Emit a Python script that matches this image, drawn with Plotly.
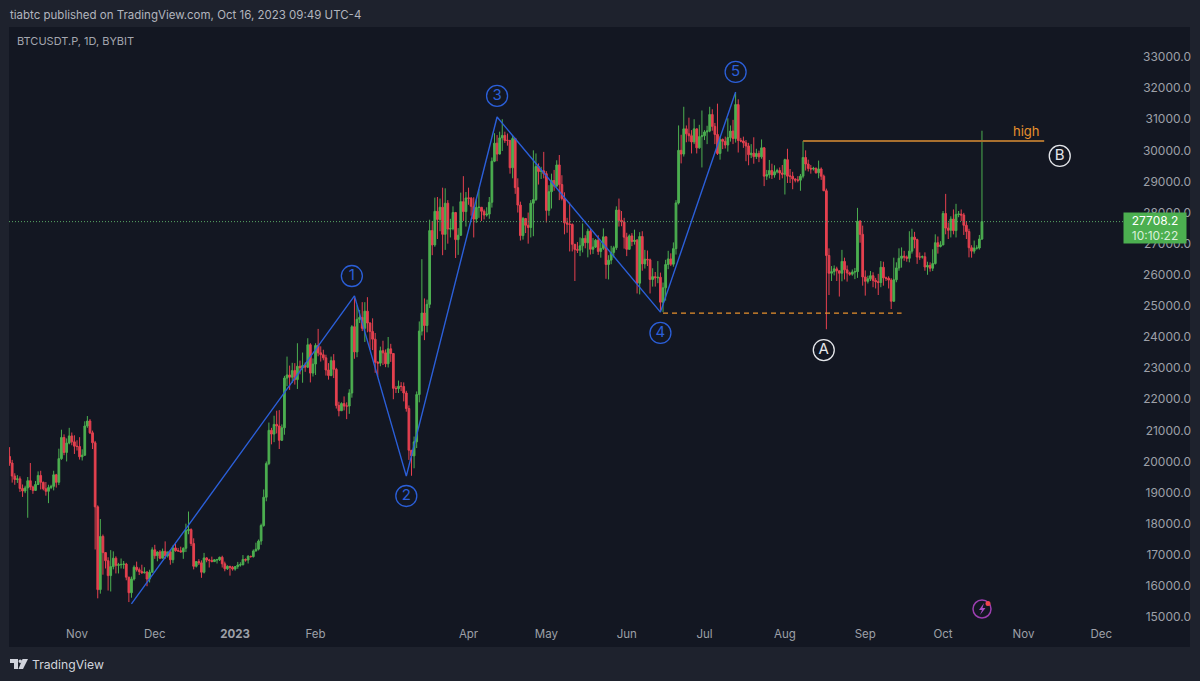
import pandas as pd
import plotly.graph_objects as go

W, H = 1200, 681
L, R, T, B = 9, 1190, 27, 647

first_date = "2022-10-06"
first_open = 20160

closes = [
 19950,19530,19420,19440,19130,19050,19150,19380,19180,19070,19260,19550,19330,19120,19040,19160,19200,19570,19330,20090,20770,20290,20590,20820,20630,20490,
 20480,20150,20200,21140,21300,20920,20600,18540,15880,17590,17070,16810,16330,16620,16890,16660,16680,16690,16700,16280,15780,16220,16600,16520,16460,16420,16440,16220,16440,17160,
 16970,17090,16890,17110,16970,17090,16840,17220,17130,17130,17090,17210,17780,17810,17360,16630,16780,16740,16440,16900,16830,16820,16780,16840,16840,16920,16710,16550,16630,16600,16540,
 16620,16670,16680,16850,16830,16950,16940,17120,17180,17440,17940,18850,19930,21000,20880,21190,21140,20680,21080,22680,22780,22710,22920,22630,23060,23010,23080,23030,23750,22840,23130,
 23730,23490,23430,23330,22940,22760,23240,22960,21800,21630,21860,21780,21780,22200,24330,23520,24570,24630,24280,24830,24450,24180,23930,23190,23160,23560,23490,23140,
 23620,23470,22350,22340,22420,22410,22200,21700,20360,20180,20630,22150,24190,24770,24370,25050,27420,26960,28040,27780,28170,27300,28300,27470,27480,28000,27130,27270,28350,28030,28470,
 28460,28200,27790,28170,28170,28040,27920,27950,28330,29650,30230,29880,30400,30480,30320,30320,29440,30380,28800,28240,27260,27810,27590,27520,28300,28420,29480,29320,29340,29250,
 28070,28670,29030,28850,29530,28900,28450,27670,27630,27620,26980,26810,26790,26930,27170,27030,27400,26820,26890,27110,26750,26850,27220,26330,26470,26720,26870,28080,27750,27700,27210,
 26820,27250,27070,27110,25730,27230,26350,26500,26480,25850,25940,25900,25920,25120,25580,26330,26510,26340,26840,28310,30000,29880,30690,30530,30470,30270,30690,30080,30440,30470,
 30590,30620,31150,30770,30510,29900,30350,30290,30170,30410,30620,30380,31470,30320,30300,30240,30140,29860,29910,29800,29900,29790,30080,29170,29220,29350,29210,29310,29350,29270,29230,
 29700,29170,29170,29080,29040,29040,29170,29770,29560,29420,29400,29420,29280,29400,29170,28700,26620,26050,26100,26190,26130,26050,26430,26160,26060,26020,26090,26100,27720,27300,25930,
 25790,25870,25970,25820,25780,25750,26240,25900,25890,25830,25150,25840,26220,26530,26600,26570,26530,26760,27210,27130,26570,26570,26580,26250,26300,26210,26360,27030,26910,26960,
 27970,27500,27430,27790,27420,27940,27950,27920,27590,27390,26870,26760,26860,26860,27150,27708.2,
]
highs = [
 20460,20050,19620,19560,19520,19260,19220,19500,19950,19220,19370,19680,19700,19350,19340,19250,19250,19700,19600,20410,21020,20870,20740,21080,20930,20840,
 20680,20780,20390,21290,21460,21360,20990,20660,18590,18150,17650,17070,16920,17150,17110,16950,16740,16880,16800,16740,16290,16300,16660,16780,16590,16680,16600,16480,16520,17240,
 17320,17110,17150,17200,17430,17100,17140,17300,17350,17220,17260,17240,18000,18390,17850,17530,16800,16860,16820,17060,16920,16870,16940,16860,16870,16940,16970,16780,16660,16640,16640,
 16630,16770,16760,16990,16880,16990,16970,17170,17390,17490,18000,19100,20000,21250,21080,21470,21630,21650,21190,22750,23370,23080,23170,23160,23800,23240,23500,23180,23960,23800,23310,
 23800,24260,23700,23590,23430,23160,23370,23450,23010,21920,21900,22090,21900,22320,24380,25250,25020,24870,25120,25120,25280,24470,24600,24130,23220,23690,23880,23600,
 24000,23780,23480,22420,22600,22550,22540,22270,21800,20300,20800,22250,24500,26500,25240,25200,27770,27730,28480,28500,28450,28800,28780,28400,27800,28200,28020,27500,28640,29170,28660,
 28800,28500,28490,28430,28750,28170,28100,28170,28500,29770,30550,30490,30600,31000,30600,30540,30320,30480,30400,29100,28350,27860,27820,28000,28400,30000,29900,29580,29470,29950,
 29330,28880,29250,29370,29680,29850,29200,28650,27830,28320,27650,26880,27050,27200,27650,27270,27480,27480,27180,27150,27270,27050,27490,27200,26630,26930,26930,28200,28450,28050,27830,
 27350,27300,27340,27450,27150,27370,27400,26800,26780,26520,26210,26090,26440,26070,25750,26480,26770,26690,27040,28400,30800,30500,31400,30800,31050,30650,31000,30700,30820,31280,
 30650,30790,31400,31320,30880,31500,30450,30380,30440,31030,30800,30980,31850,31640,30400,30440,30330,30240,30200,30420,30050,29990,30350,30100,29370,29690,29570,29520,29410,29450,29530,
 29730,30050,29400,29310,29100,29170,29240,30300,30000,29700,29530,29470,29450,29670,29450,29220,28770,26850,26280,26300,26260,26130,26800,26550,26300,26100,26170,26220,28150,27760,27580,
 26140,25970,26120,26080,25900,26030,26440,26420,25940,25950,25890,26550,26400,26850,26880,26770,26620,27400,27480,27380,27160,26720,26620,26720,26420,26400,26820,27300,27230,27080,
 28050,28600,27680,27880,28100,28280,28050,28100,27990,27720,27480,26950,27100,26950,27280,30630,
]
lows = [
 19860,19320,19250,19310,19020,18860,18980,18190,19080,18960,19060,19240,19100,19070,18900,18660,19110,19070,19160,19240,20050,20200,20000,20550,20520,20240,
 20350,20060,20030,20180,21080,20880,20400,17170,15600,15750,16360,16560,15850,15820,16530,16400,16400,16560,16550,16180,15480,15620,16170,16460,16350,16390,16400,15990,16110,16430,
 16870,16790,16860,16880,16870,16910,16680,16730,17100,17090,17070,16870,17090,17660,17280,16530,16590,16670,16260,16400,16760,16590,16760,16790,16720,16800,16590,16470,16510,16330,16490,
 16490,16550,16620,16660,16780,16720,16910,16910,17110,17140,17320,17900,18720,19880,20550,20620,20900,20400,20660,20860,22420,22300,22520,22470,22330,22800,22530,22880,23000,22540,22730,
 22780,23380,23210,23250,22760,22630,22740,22680,21700,21450,21620,21640,21360,21530,22050,23300,23350,24450,24190,23840,24150,23600,23580,22850,22720,23060,23100,23030,
 23020,23200,22000,22200,22200,22260,21930,21600,20050,19540,19780,20430,21900,24050,23900,24150,24930,26630,26900,27150,27400,26630,26800,27000,27200,27430,26540,26640,27250,27730,27550,
 28250,27900,27200,27670,27830,27730,27780,27870,27800,28160,29620,29650,29870,29980,30240,30150,29250,29100,28600,28000,27100,27130,27340,27000,27200,27240,28370,28900,29080,29100,
 27680,27900,28130,28700,28800,28400,28390,27300,27350,26750,26750,25800,26700,26600,26720,26850,26560,26650,26670,26860,26640,26550,26800,25870,25850,26340,26560,26800,27550,27560,26840,
 26600,26800,26920,26970,25400,25370,26130,26200,26280,25400,25620,25620,25730,24830,24800,25170,26180,26280,26260,26650,28260,29580,29800,30260,30280,29900,30200,29900,30050,29450,
 30330,30200,30580,30630,30200,29850,29700,30040,30060,29960,30280,30200,30250,29930,30260,30080,29650,29520,29750,29570,29720,29620,29730,28850,29050,29100,29080,29120,29260,29050,29100,
 28580,28950,28950,28750,28970,28970,28700,29100,29350,29320,29250,29350,29250,29100,29050,28690,24250,25350,25800,25980,25800,25300,25790,25850,25780,25970,25970,25860,25900,27030,25650,
 25330,25720,25800,25600,25560,25350,25600,25650,25800,25560,24900,25130,25760,26130,26230,26450,26420,26400,26680,26850,26350,26480,26520,26130,26000,26100,26120,26330,26680,26880,
 26950,27300,27150,27200,27300,27200,27850,27730,27280,27150,26560,26550,26680,26810,26810,27120,
]

price_ticks = [15000 + 1000 * i for i in range(19)]
month_ticks = ["2022-11-01","2022-12-01","2023-01-01","2023-02-01","2023-04-01","2023-05-01","2023-06-01",
               "2023-07-01","2023-08-01","2023-09-01","2023-10-01","2023-11-01","2023-12-01"]
month_labels = ["Nov","Dec","<b>2023</b>","Feb","Apr","May","Jun","Jul","Aug","Sep","Oct","Nov","Dec"]

wave_dates = ["2022-11-22","2023-02-16","2023-03-08","2023-04-12","2023-06-14","2023-07-13"]
wave_prices = [15420, 25320, 19530, 31070, 24800, 31875]
blue_dates = ["2023-02-15","2023-03-08","2023-04-12","2023-06-14","2023-07-13"]
blue_prices = [25960, 18890, 31750, 24130, 32520]
blue_labels = ["1","2","3","4","5"]
white_dates = ["2023-08-16","2023-11-15"]
white_prices = [23580, 29820]
white_labels = ["A","B"]
low_dates = ["2023-06-15","2023-09-15"]
low_prices = [24770, 24770]
high_dates = ["2023-08-08","2023-11-09"]
high_prices = [30300, 30300]
last_price = 27708.2

BG = "#131722"
FRAME = "#1e222d"
GREEN = "#4caf50"
RED = "#e5404f"
BLUE = "#2b5fd9"
ORANGE = "#e8912d"
FONT = "Inter"

dates = pd.date_range(first_date, periods=len(closes), freq="D")
opens = [first_open] + closes[:-1]

def price_at(y):
    return 15000 + (617 - y) * 18000 / 560
def date_at(x):
    return pd.Timestamp("2022-11-01") + pd.Timedelta(days=(x - 77) / 2.593)
def px(x):
    return (x - L) / (R - L)
def py(y):
    return 1 - (y - T) / (B - T)

fig = go.Figure()
fig.add_trace(go.Scatter(x=[date_at(L), dates[-1], date_at(1124)], y=[last_price]*3, mode="lines",
                         line=dict(color="#5aa865", width=1, dash="1px 2px"), hoverinfo="skip"))
fig.add_trace(go.Candlestick(x=dates, open=opens, high=highs, low=lows, close=closes,
    increasing=dict(line=dict(color=GREEN, width=1), fillcolor=GREEN),
    decreasing=dict(line=dict(color=RED, width=1), fillcolor=RED),
    whiskerwidth=0))
fig.add_trace(go.Scatter(x=wave_dates, y=wave_prices, mode="lines", line=dict(color=BLUE, width=1.4), hoverinfo="skip"))
fig.add_trace(go.Scatter(x=low_dates, y=low_prices, mode="lines", line=dict(color=ORANGE, width=1.2, dash="5px 4px"), hoverinfo="skip"))
fig.add_trace(go.Scatter(x=high_dates, y=high_prices, mode="lines", line=dict(color="#a9702f", width=2), hoverinfo="skip"))
fig.add_trace(go.Scatter(x=blue_dates, y=blue_prices, mode="markers+text", text=blue_labels, textposition="middle center",
    marker=dict(size=21, color="rgba(0,0,0,0)", line=dict(color=BLUE, width=1.3)),
    textfont=dict(family=FONT, size=15, color=BLUE), hoverinfo="skip"))
fig.add_trace(go.Scatter(x=white_dates, y=white_prices, mode="markers+text", text=white_labels, textposition="middle center",
    marker=dict(size=21, color="rgba(0,0,0,0)", line=dict(color="#e4e6ea", width=1.3)),
    textfont=dict(family=FONT, size=15, color="#e4e6ea"), hoverinfo="skip"))

anns = [
    dict(xref="paper", yref="paper", x=px(8), y=py(15), text="tiabtc published on TradingView.com, Oct 16, 2023 09:49 UTC-4",
         font=dict(family=FONT, size=11.5, color="#b2b5be"), xanchor="left", yanchor="middle", showarrow=False),
    dict(xref="paper", yref="paper", x=px(15), y=py(41), text="BTCUSDT.P, 1D, BYBIT",
         font=dict(family=FONT, size=11, color="#a3a6af"), xanchor="left", yanchor="middle", showarrow=False),
    dict(xref="paper", yref="paper", x=px(30), y=py(664), text="TradingView",
         font=dict(family=FONT, size=12.2, color="#d1d4dc"), xanchor="left", yanchor="middle", showarrow=False),
    dict(x=date_at(1026), y=price_at(131), text="high", font=dict(family=FONT, size=13, color=ORANGE),
         showarrow=False),
    dict(xref="paper", y=last_price, yref="y", x=px(1155), xanchor="center", yshift=-6.5,
         text="27708.2<br><span style='color:#d9efda'>10:10:22</span>",
         font=dict(family=FONT, size=12, color="#ffffff"), showarrow=False, bgcolor=GREEN, width=62, height=30,
         align="center", valign="middle", borderpad=0),
]

def rect_path(points):
    return "M " + " L ".join(f"{px(a):.5f},{py(b):.5f}" for a, b in points) + " Z"

logo_left = [(10,659),(18,659),(18,669),(14,669),(14,663),(10,663)]
logo_right = [(22.5,659),(28,659),(23,669),(18.5,669)]
bolt = [(984,603),(979,610),(982,610),(980,615),(985.5,608),(982.5,608)]
shapes = [
    dict(type="path", xref="paper", yref="paper", path=rect_path(logo_left), fillcolor="#d1d4dc", line_width=0),
    dict(type="path", xref="paper", yref="paper", path=rect_path(logo_right), fillcolor="#d1d4dc", line_width=0),
    dict(type="circle", xref="paper", yref="paper", x0=px(18.5), x1=px(22), y0=py(663), y1=py(659.5), fillcolor="#d1d4dc", line_width=0),
    dict(type="circle", xref="paper", yref="paper", x0=px(973), x1=px(991), y0=py(618), y1=py(600), line=dict(color="#9c3fb0", width=1.5)),
    dict(type="path", xref="paper", yref="paper", path=rect_path(bolt), fillcolor="#a64bc4", line_width=0),
    dict(type="circle", xref="paper", yref="paper", x0=px(985.5), x1=px(990.5), y0=py(606), y1=py(601), fillcolor="#f0444f", line_width=0),
]

fig.update_layout(
    width=W, height=H, autosize=False, showlegend=False, boxgap=0.05,
    margin=dict(l=L, r=W - R, t=T, b=H - B),
    paper_bgcolor=FRAME, plot_bgcolor=BG,
    annotations=anns, shapes=shapes,
    xaxis=dict(range=[date_at(L), date_at(R)], type="date", rangeslider=dict(visible=False),
               tickmode="array", tickvals=month_ticks, ticktext=month_labels,
               ticklabelposition="inside", ticks="", showgrid=False, zeroline=False, showline=False,
               ticklabelstandoff=4,
               tickfont=dict(family=FONT, size=11.5, color="#9da0a8")),
    yaxis=dict(range=[price_at(B), price_at(T)], side="right", tickmode="array", tickvals=price_ticks,
               tickformat=".1f", ticklabelposition="inside", ticks="", showgrid=False, zeroline=False, showline=False,
               ticklabelstandoff=-4,
               tickfont=dict(family=FONT, size=12, color="#9da0a8")),
)
fig.write_html("out.html", config=dict(displayModeBar=False),
               post_script="document.body.style.margin='0';document.body.style.overflow='hidden';document.body.style.background='#1e222d';window.dispatchEvent(new Event('resize'));")
